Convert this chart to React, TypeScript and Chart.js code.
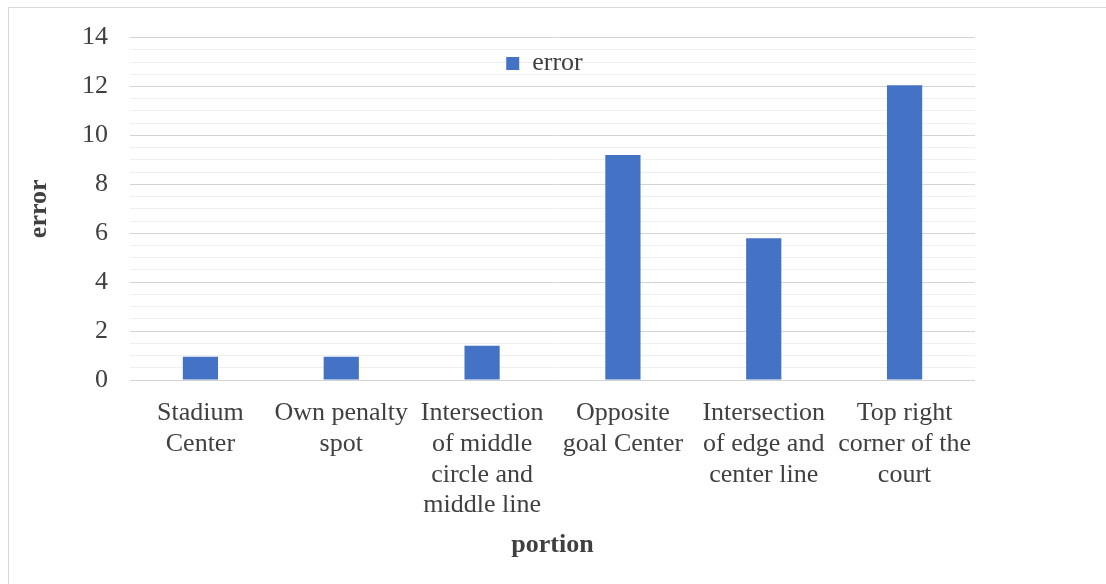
import React, { useEffect, useRef } from "react";
import { Chart, registerables } from "chart.js";

Chart.register(...registerables);

const categories: string[][] = [
  ["Stadium", "Center"],
  ["Own penalty", "spot"],
  ["Intersection", "of middle", "circle and", "middle line"],
  ["Opposite", "goal Center"],
  ["Intersection", "of edge and", "center line"],
  ["Top right", "corner of the", "court"],
];
const seriesLabel = "error";
const errorValues = [0.95, 0.95, 1.4, 9.2, 5.8, 12.05];
const yMin = 0;
const yMax = 14;
const yLabelStep = 2;
const yGridStep = 0.5;
const xTitle = "portion";
const yTitle = "error";

const FONT = '"Liberation Serif", "Times New Roman", Times, serif';
const TEXT = "#404040";

const legendInside = {
  id: "legendInside",
  beforeInit(chart: any) {
    const legend = chart.legend;
    if (!legend) return;
    const fit = legend.fit;
    legend.fit = function () {
      fit.call(this);
      this.height = 0;
    };
  },
  afterLayout(chart: any) {
    const legend = chart.legend;
    if (!legend) return;
    legend.height = 60;
    legend.bottom = legend.top + 60;
    legend.left -= 8;
    legend.right -= 8;
  },
};

export default function App() {
  const ref = useRef<HTMLCanvasElement | null>(null);
  useEffect(() => {
    if (!ref.current) return;
    const chart = new Chart(ref.current, {
      type: "bar",
      data: {
        labels: categories as any,
        datasets: [
          {
            label: seriesLabel,
            data: errorValues,
            backgroundColor: "#4472c4",
            borderWidth: 0,
            barPercentage: 0.25,
            categoryPercentage: 1,
          },
        ],
      },
      plugins: [legendInside],
      options: {
        animation: false,
        responsive: false,
        devicePixelRatio: 1,
        layout: { padding: { top: 36, right: 131, left: 0, bottom: 0 } },
        plugins: {
          legend: {
            position: "top",
            fullSize: false,
            labels: {
              boxWidth: 13,
              boxHeight: 13,
              padding: 13,
              color: TEXT,
              font: { family: FONT, size: 26 },
            },
          },
          tooltip: { enabled: false },
        },
        scales: {
          x: {
            grid: { display: false },
            border: { display: false },
            ticks: {
              color: TEXT,
              font: { family: FONT, size: 26, lineHeight: 1.18 },
              padding: 10,
              maxRotation: 0,
              minRotation: 0,
              autoSkip: false,
            },
            title: {
              display: true,
              text: xTitle,
              color: TEXT,
              font: { family: FONT, size: 26, weight: "bold" },
              padding: { top: 0, bottom: 23 },
            },
            afterFit: (s: any) => {
              s.height = 204;
            },
          },
          y: {
            min: yMin,
            max: yMax,
            ticks: {
              stepSize: yGridStep,
              autoSkip: false,
              color: TEXT,
              font: { family: FONT, size: 26 },
              padding: 22,
              callback: (v: any) => (Number(v) % yLabelStep === 0 ? String(v) : ""),
            },
            grid: {
              drawTicks: false,
              lineWidth: 1,
              color: (ctx: any) =>
                ctx.tick && Number(ctx.tick.value) % yLabelStep === 0 ? "#d4d4d4" : "#efefef",
            },
            border: { display: false },
            title: {
              display: true,
              text: yTitle,
              color: TEXT,
              font: { family: FONT, size: 26, weight: "bold" },
              padding: { top: 24, bottom: 0 },
            },
            afterFit: (s: any) => {
              s.width = 130;
            },
          },
        },
      } as any,
    });
    return () => chart.destroy();
  }, []);

  return (
    <>
      <div
        style={{
          position: "fixed",
          left: 8,
          top: 7,
          width: 1098,
          height: 577,
          borderTop: "1px solid #d9d9d9",
          borderLeft: "1px solid #d9d9d9",
          boxSizing: "border-box",
        }}
      />
      <canvas
        ref={ref}
        width={1106}
        height={584}
        style={{ position: "fixed", left: 0, top: 0, width: 1106, height: 584 }}
      />
    </>
  );
}
